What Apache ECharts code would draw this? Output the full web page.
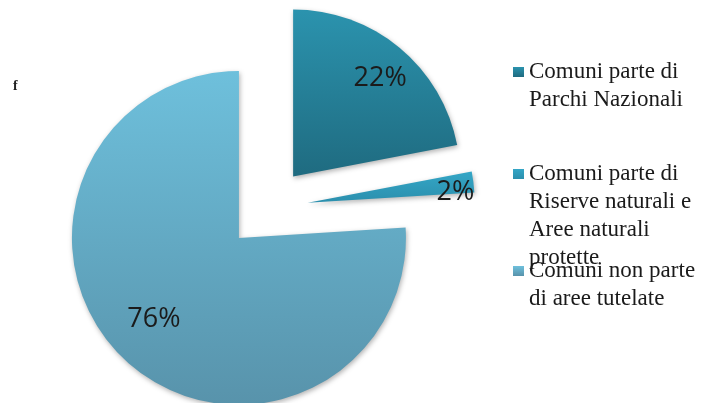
<!DOCTYPE html>
<html>
<head>
<meta charset="utf-8">
<script src="https://cdn.jsdelivr.net/npm/echarts@6/dist/echarts.min.js"></script>
<style>
  html, body { margin: 0; padding: 0; background: #ffffff; }
  #chart { width: 701px; height: 403px; }
</style>
</head>
<body>
<div id="chart"></div>
<script>
// Municipalities by protected-area status (share of total, %)
const categories = [
  'Comuni parte di Parchi Nazionali',
  'Comuni parte di Riserve naturali e Aree naturali protette',
  'Comuni non parte di aree tutelate'
];
const shares = [22, 2, 76];

// Legend text, broken into lines
const legendLines = [
  ['Comuni parte di', 'Parchi Nazionali'],
  ['Comuni parte di', 'Riserve naturali e', 'Aree naturali', 'protette'],
  ['Comuni non parte', 'di aree tutelate']
];

// Slice fills: vertical gradients (top, bottom)
const sliceColors = [
  ['#2b93ae', '#1f6b80'],
  ['#34a6c6', '#2b8fad'],
  ['#6ec0dc', '#5893ab']
];

// Radial position of each percentage label (fraction of the radius)
// plus a small extra nudge in pixels
const labelRadius = [0.79, 0.88, 0.70];
const labelNudge = [[1, 6], [-1, 8], [-3, -6]];

const R = 167;
const explode = 41;
const lineH = 28;
const markerCenters = [72, 174, 271];

const total = shares.reduce((a, b) => a + b, 0);
function midAngle(i) {
  let before = 0;
  for (let k = 0; k < i; k++) before += shares[k];
  const frac = (before + shares[i] / 2) / total;
  return (90 - frac * 360) * Math.PI / 180;
}

const chart = echarts.init(document.getElementById('chart'), null, { renderer: 'canvas' });

// One legend block per category; leading blank lines keep the
// marker level with the first text line.
const legends = categories.map((name, i) => {
  const n = legendLines[i].length;
  const block = (2 * n - 1) * lineH;
  return {
    data: [name],
    orient: 'vertical',
    left: 513,
    top: markerCenters[i] - block / 2,
    padding: 0,
    itemWidth: 11,
    itemHeight: 10,
    itemGap: 0,
    icon: 'rect',
    selectedMode: false,
    formatter: () => ' \n'.repeat(n - 1) + legendLines[i].join('\n'),
    textStyle: {
      fontFamily: 'Liberation Serif',
      fontSize: 23,
      lineHeight: lineH,
      color: '#1a1a1a'
    }
  };
});

chart.setOption({
  animation: false,
  backgroundColor: '#ffffff',
  title: {
    text: 'f',
    left: 8,
    top: 74,
    textStyle: {
      fontFamily: 'Liberation Serif',
      fontWeight: 'bold',
      fontSize: 14,
      color: '#222222'
    }
  },
  legend: legends,
  series: [{
    type: 'pie',
    center: [267, 208],
    radius: [0, R],
    startAngle: 90,
    clockwise: true,
    selectedMode: 'multiple',
    selectedOffset: explode,
    avoidLabelOverlap: false,
    emphasis: { disabled: true },
    itemStyle: {
      shadowBlur: 5,
      shadowOffsetX: 1,
      shadowOffsetY: 2,
      shadowColor: 'rgba(0,0,0,0.3)'
    },
    label: {
      show: true,
      position: 'inside',
      formatter: '{d}%',
      fontFamily: 'Open Sans',
      fontSize: 27,
      color: '#1b1b1b'
    },
    labelLine: { show: false },
    labelLayout: (params) => {
      const i = params.dataIndex;
      const a = midAngle(i);
      const extra = (labelRadius[i] - 0.5) * R;
      return {
        dx: extra * Math.cos(a) + labelNudge[i][0],
        dy: -extra * Math.sin(a) + labelNudge[i][1]
      };
    },
    data: categories.map((name, i) => ({
      name: name,
      value: shares[i],
      selected: true,
      itemStyle: {
        color: new echarts.graphic.LinearGradient(0, 0, 0, 1, [
          { offset: 0, color: sliceColors[i][0] },
          { offset: 1, color: sliceColors[i][1] }
        ])
      }
    }))
  }]
});
</script>
</body>
</html>
